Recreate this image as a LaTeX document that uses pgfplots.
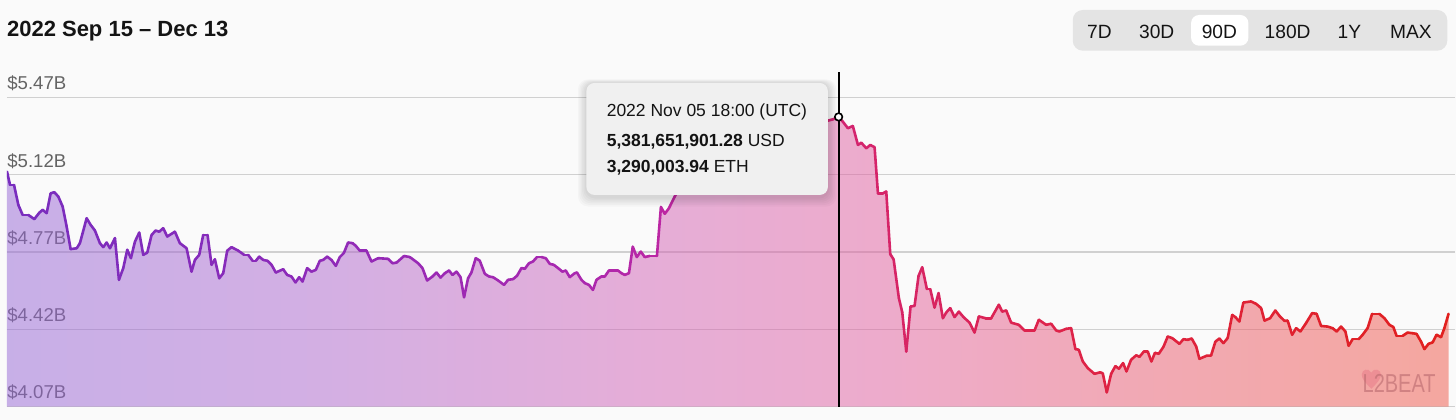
\documentclass[border=0pt]{standalone}
\usepackage{fontspec}
\setmainfont{Liberation Sans}
\usepackage{pgfplots}
\pgfplotsset{compat=1.18}
\usepackage{pgfplotstable}

\definecolor{bg}{RGB}{250,250,250}
\definecolor{gridc}{RGB}{208,208,208}
\definecolor{labc}{RGB}{100,100,100}
\definecolor{titc}{RGB}{20,20,20}
\definecolor{btnbg}{RGB}{228,228,228}
\definecolor{tipbg}{RGB}{240,240,240}
\definecolor{fA}{RGB}{150,102,214}
\definecolor{fB}{RGB}{174,102,206}
\definecolor{fC}{RGB}{210,98,182}
\definecolor{fD}{RGB}{226,94,158}
\definecolor{fE}{RGB}{234,90,114}
\definecolor{fF}{RGB}{240,86,70}
\definecolor{heartc}{RGB}{232,120,135}
\definecolor{logoc}{RGB}{185,105,110}

% TikZ maps the path's box onto 25bp..75bp of the shading
\pgfdeclarehorizontalshading{fillgrad}{100bp}{color(0bp)=(fA); color(25bp)=(fA); color(36.09bp)=(fB); color(47.19bp)=(fC); color(55.51bp)=(fD); color(63.83bp)=(fE); color(75bp)=(fF); color(100bp)=(fF)}

\pgfplotstableread{
x y
0.00 5.134
0.19 5.074
0.44 5.074
0.71 4.983
0.98 4.938
1.33 4.938
1.71 4.919
2.02 4.948
2.23 4.961
2.48 4.946
2.73 5.036
2.96 5.041
3.21 5.021
3.48 4.976
3.73 4.885
3.98 4.783
4.36 4.787
4.56 4.810
4.98 4.923
5.23 4.893
5.50 4.867
5.81 4.810
6.02 4.792
6.23 4.813
6.44 4.787
6.75 4.833
7.00 4.644
7.27 4.697
7.52 4.780
7.75 4.742
8.00 4.817
8.27 4.858
8.52 4.757
8.77 4.767
9.04 4.847
9.29 4.867
9.52 4.862
9.77 4.878
10.02 4.840
10.50 4.862
10.81 4.810
11.23 4.787
11.54 4.681
11.75 4.734
12.02 4.757
12.27 4.847
12.54 4.847
12.79 4.712
13.00 4.737
13.27 4.651
13.52 4.674
13.77 4.776
14.04 4.792
14.46 4.776
14.83 4.757
15.08 4.757
15.36 4.730
15.56 4.730
15.77 4.749
16.02 4.734
16.29 4.730
16.54 4.712
16.81 4.677
17.27 4.692
17.52 4.666
17.79 4.659
18.04 4.632
18.27 4.656
18.48 4.636
18.77 4.697
19.04 4.681
19.31 4.689
19.56 4.730
19.77 4.734
20.02 4.749
20.29 4.734
20.56 4.707
20.81 4.747
21.06 4.765
21.33 4.813
21.61 4.810
21.81 4.798
22.06 4.776
22.48 4.776
22.79 4.727
23.21 4.742
23.83 4.739
24.11 4.719
24.36 4.722
24.83 4.752
25.19 4.747
25.71 4.719
25.98 4.697
26.27 4.641
26.61 4.659
26.86 4.677
27.11 4.654
27.38 4.674
27.64 4.686
27.86 4.666
28.11 4.681
28.36 4.656
28.58 4.565
28.83 4.651
29.04 4.677
29.31 4.742
29.56 4.731
29.88 4.671
30.14 4.659
30.39 4.656
30.71 4.641
31.08 4.621
31.33 4.644
31.64 4.647
31.89 4.662
32.17 4.697
32.38 4.694
32.64 4.719
32.89 4.727
33.14 4.747
33.42 4.747
33.69 4.742
33.94 4.716
34.19 4.712
34.46 4.697
34.73 4.681
34.94 4.686
35.19 4.656
35.50 4.674
35.64 4.677
35.92 4.644
36.13 4.629
36.39 4.621
36.64 4.598
36.86 4.644
37.17 4.659
37.38 4.659
37.64 4.686
38.21 4.686
38.42 4.674
38.63 4.666
38.89 4.674
39.13 4.794
39.38 4.747
39.63 4.772
39.88 4.747
40.19 4.752
40.64 4.752
40.89 4.974
41.13 4.943
41.39 4.968
41.75 5.021
42.69 5.142
43.63 5.232
44.56 5.278
45.81 5.314
47.06 5.332
48.31 5.346
49.56 5.355
50.50 5.361
51.33 5.365
51.64 5.371
52.00 5.382
52.27 5.360
52.58 5.331
52.89 5.341
53.21 5.255
53.42 5.265
53.73 5.240
53.98 5.255
54.25 5.245
54.46 5.036
54.77 5.036
54.98 5.044
55.23 4.760
55.44 4.737
55.77 4.561
55.98 4.497
56.23 4.319
56.50 4.523
56.75 4.526
57.00 4.662
57.23 4.701
57.52 4.602
57.73 4.602
58.00 4.518
58.25 4.584
58.52 4.470
58.73 4.496
58.98 4.516
59.25 4.475
59.52 4.500
59.81 4.475
60.19 4.450
60.50 4.405
60.77 4.478
61.19 4.470
61.54 4.470
62.02 4.531
62.23 4.500
62.48 4.505
62.79 4.450
63.27 4.440
63.63 4.414
64.25 4.414
64.52 4.463
64.98 4.440
65.29 4.445
65.61 4.414
65.81 4.410
66.23 4.422
66.54 4.425
66.81 4.330
67.02 4.327
67.27 4.274
67.58 4.244
68.00 4.218
68.36 4.225
68.52 4.220
68.77 4.134
69.04 4.218
69.31 4.253
69.53 4.241
69.79 4.267
70.00 4.229
70.29 4.282
70.61 4.302
70.81 4.295
71.09 4.319
71.33 4.319
71.56 4.274
71.78 4.313
72.02 4.309
72.31 4.340
72.58 4.387
72.86 4.380
73.31 4.354
73.56 4.375
73.83 4.372
74.08 4.378
74.36 4.342
74.56 4.286
75.02 4.300
75.29 4.301
75.56 4.364
75.81 4.378
76.06 4.357
76.33 4.380
76.61 4.485
76.81 4.475
77.06 4.455
77.31 4.541
77.79 4.546
78.11 4.535
78.42 4.516
78.63 4.459
78.98 4.470
79.31 4.505
79.56 4.481
79.88 4.458
80.08 4.459
80.36 4.395
80.61 4.425
80.88 4.410
81.23 4.448
81.61 4.493
81.89 4.490
82.17 4.435
82.58 4.432
82.89 4.425
83.14 4.410
83.42 4.432
83.69 4.410
83.89 4.345
84.14 4.375
84.52 4.375
84.77 4.395
85.08 4.425
85.36 4.490
85.81 4.490
86.13 4.470
86.44 4.440
86.69 4.430
86.89 4.390
87.27 4.390
87.58 4.405
87.89 4.402
88.14 4.399
88.42 4.364
88.63 4.330
88.89 4.354
89.14 4.360
89.39 4.395
89.67 4.384
89.88 4.425
90.14 4.490
}\tvl

\pagecolor{bg}
\begin{document}
\begin{tikzpicture}[x=1pt,y=1pt]
\path (0,0) rectangle (728,210);
\begin{axis}[
  set layers,
  at={(3.5pt,6.65pt)}, anchor=south west,
  scale only axis, width=724.5pt, height=173.35pt,
  xmin=0, xmax=90.56, ymin=4.07, ymax=5.64,
  xtick=\empty,
  ytick={4.07,4.42,4.77,5.12,5.47},
  yticklabels={\$4.07B,\$4.42B,\$4.77B,\$5.12B,\$5.47B},
  yticklabel style={anchor=base west, inner sep=0pt, yshift=3.85pt, text=labc, font=\fontsize{9.3}{11}\selectfont},
  ymajorgrids, grid style={gridc, line width=0.75pt},
  axis line style={draw=none}, major tick length=0pt,
  point meta min=0, point meta max=90.14,
  colormap={l2line}{rgb255(0cm)=(120,45,190) rgb255(1.8cm)=(140,42,185) rgb255(3.6cm)=(170,40,175) rgb255(4.2cm)=(192,38,160) rgb255(5.3cm)=(212,36,110) rgb255(6.5cm)=(222,35,75) rgb255(9.014cm)=(225,32,30)},
]
\addplot[draw=none, shade, shading=fillgrad, fill opacity=0.5] table[x=x,y=y] {\tvl} \closedcycle;
\addplot[mesh, point meta=x, line width=1.3pt, line cap=round, line join=round] table[x=x,y=y] {\tvl};
\draw[black, line width=1pt] (axis cs:52,4.07) -- (axis cs:52,5.585);
\addplot[only marks, mark=*, mark size=1.9pt, mark options={fill=white, draw=black, line width=0.8pt}] coordinates {(52,5.382)};
\end{axis}

% tooltip shadow and box
\foreach \s in {1,...,6} {
  \fill[black, opacity=0.022, rounded corners=5pt] (293.35-\s*0.7, 111.5-\s*0.8) rectangle (414.15+\s*0.7, 168.5+\s*0.3);
}
\fill[tipbg, rounded corners=4pt] (293.35,112.5) rectangle (414.15,168.5);
\node[anchor=base west, inner sep=0pt, font=\fontsize{8.75}{10}\selectfont, text=titc] at (303.35,151.65) {2022 Nov 05 18:00 (UTC)};
\node[anchor=base west, inner sep=0pt, font=\fontsize{8.75}{10}\selectfont, text=titc] at (303.35,136.65) {\textbf{5,381,651,901.28} USD};
\node[anchor=base west, inner sep=0pt, font=\fontsize{8.75}{10}\selectfont, text=titc] at (303.35,123.65) {\textbf{3,290,003.94} ETH};

% title
\node[anchor=base west, inner sep=0pt, font=\bfseries\fontsize{11}{13}\selectfont, text=titc] at (3.35,191.65) {2022 Sep 15 – Dec 13};

% range buttons
\fill[btnbg, rounded corners=5pt] (536.65,184.65) rectangle (724,205);
\fill[white, rounded corners=4pt] (595.85,187.15) rectangle (624.5,202.5);
\foreach \t/\xx in {7D/550, 30D/578.65, 90D/610, 180D/644.15, 1Y/675, MAX/705.85} {
  \node[anchor=base, inner sep=0pt, font=\fontsize{9.6}{11}\selectfont, text=titc] at (\xx,190.85) {\t};
}

% watermark (heart drawn as a shape)
\fill[heartc, opacity=0.5] (686,15.5) .. controls (683,18.5) and (681.2,20.5) .. (681.2,22.6)
  .. controls (681.2,25.2) and (684.6,26.2) .. (686,23.6)
  .. controls (687.4,26.2) and (690.8,25.2) .. (690.8,22.6)
  .. controls (690.8,20.5) and (689,18.5) .. (686,15.5) -- cycle;
\node[anchor=base west, inner sep=0pt, text=logoc, opacity=0.6, xscale=0.77, font=\fontsize{13}{13}\selectfont] at (681.5,13.5) {L2BEAT};
\end{tikzpicture}
\end{document}
